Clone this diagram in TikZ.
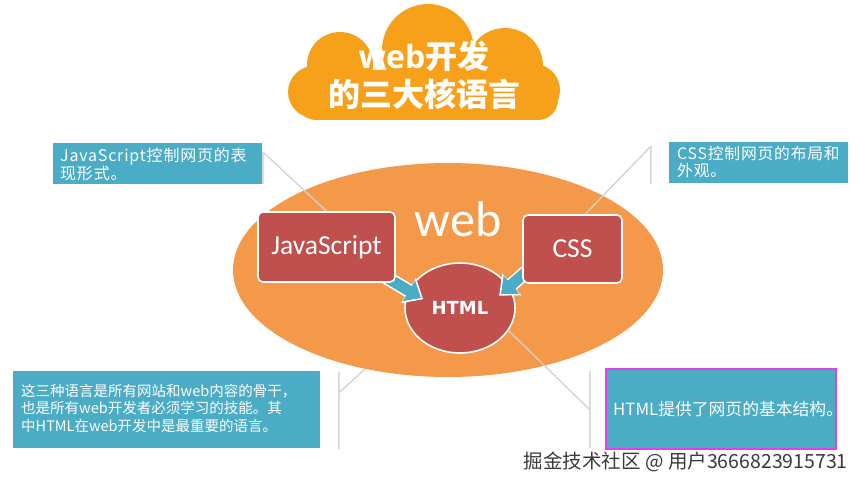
\documentclass[tikz,border=0pt]{standalone}
\usepackage{fontspec}
\setmainfont{Noto Sans CJK SC}
\newfontfamily\latinf{Carlito}
\newfontfamily\boldf{DejaVu Sans}
\newfontfamily\titlelatin{Open Sans}
\newfontfamily\spacedf[LetterSpace=5]{Noto Sans CJK SC}
\usetikzlibrary{shapes.geometric,arrows.meta,calc}
\definecolor{cloudorange}{HTML}{F7A11B}
\definecolor{ellorange}{HTML}{F4994A}
\definecolor{boxred}{HTML}{C0504D}
\definecolor{calloutblue}{HTML}{4BACC6}
\definecolor{linegray}{HTML}{D2D2D2}
\definecolor{selmag}{HTML}{E040E8}
\definecolor{wmgray}{HTML}{3A3A3A}
\tikzset{
  redbox/.style={draw=white, line width=1.6pt, fill=boxred, rounded corners=5pt, inner sep=0pt, text=white},
  callout/.style={fill=calloutblue, inner sep=0pt, text=white, align=left, anchor=north west},
  notetext/.style={text=white, anchor=north west, align=left, inner sep=0pt},
  leader/.style={draw=linegray, line width=1.3pt},
  bracketline/.style={draw=linegray!80, line width=1.6pt},
  blockarrow/.style={draw=calloutblue, line width=11pt, -{Triangle[width=23pt,length=14pt]},
    preaction={draw=white, line width=14pt, shorten >=-2.5pt, shorten <=-1pt, -{Triangle[width=28pt,length=17pt]}}}
}
\begin{document}
\begin{tikzpicture}[x=1pt,y=-1pt]
\useasboundingbox (0,0) rectangle (862,489);
\fill[white] (0,0) rectangle (862,489);
% cloud
\begin{scope}
\fill[cloudorange] (340,65) circle[radius=33];
\fill[cloudorange] (428,50) circle[radius=46];
\fill[cloudorange] (505,66) circle[radius=38];
\fill[cloudorange] (314,92) circle[radius=26];
\fill[cloudorange] (534,90) circle[radius=26];
\fill[cloudorange, rounded corners=20pt] (296,70) rectangle (558,120);
\end{scope}
\node[text=white, align=center, font={\fontsize{32}{38}\selectfont\bfseries}] (title) at (424,75) {{\titlelatin\bfseries web}开发\\的三大核语言};
% big ellipse
\node[ellipse, fill=ellorange, minimum width=430pt, minimum height=214pt, inner sep=0pt] (web) at (448,270) {};
\node[text=white, font={\latinf\fontsize{50}{50}\selectfont}] (weblabel) at (458,219) {web};
% HTML circle
\node[ellipse, draw=white, line width=1.6pt, fill=boxred, minimum width=110pt, minimum height=90pt, inner sep=0pt, text=white, font={\boldf\bfseries\fontsize{18}{18}\selectfont}] (html) at (460,308) {HTML};
% arrows
\coordinate (a1s) at (384,276);
\coordinate (a1e) at (421,298);
\coordinate (a2s) at (526,272);
\coordinate (a2e) at (501,294);
\draw[blockarrow] (a1s) -- (a1e);
\draw[blockarrow] (a2s) -- (a2e);
% red boxes
\node[redbox, minimum width=137pt, minimum height=70pt, font={\latinf\fontsize{27.5}{27.5}\selectfont}] (js) at (326.5,247) {JavaScript};
\node[redbox, minimum width=99pt, minimum height=68pt, font={\latinf\fontsize{27.5}{27.5}\selectfont}] (css) at (572.5,249) {CSS};
% callouts
\node[callout, minimum width=209pt, minimum height=41pt] (jsnote) at (53,143) {};
\node[notetext, font={\spacedf\fontsize{16}{16.5}\selectfont}] (jstext) at (60,147.5) {JavaScript控制网页的表\\现形式。};
\node[callout, minimum width=179pt, minimum height=41pt] (cssnote) at (669,142) {};
\node[notetext, font={\spacedf\fontsize{15.8}{17}\selectfont}] (csstext) at (677,145.5) {CSS控制网页的布局和\\外观。};
\node[callout, minimum width=307pt, minimum height=77pt] (allnote) at (13,371) {};
\node[notetext, font={\fontsize{14.5}{17.5}\selectfont}] (alltext) at (21,384) {这三种语言是所有网站和web内容的骨干，\\也是所有web开发者必须学习的技能。其\\中HTML在web开发中是最重要的语言。};
\node[callout, draw=selmag, line width=1.8pt, minimum width=230pt, minimum height=80pt] (htmlnote) at (605,368) {};
\node[text=white, anchor=west, inner sep=0pt, font={\fontsize{16.8}{17}\selectfont}] (htmltext) at (613,409) {HTML提供了网页的基本结构。};
% leader lines
\coordinate (jsb) at (263,152);
\coordinate (jsb2) at (263,184);
\draw[bracketline] (jsb) -- (jsb2);
\draw[leader] (jsb) -- (js.north);
\coordinate (cssb) at (651,146);
\coordinate (cssb2) at (651,184);
\draw[bracketline] (cssb) -- (cssb2);
\draw[leader] (cssb) -- (css.70);
\coordinate (allb) at (339,372);
\coordinate (allb2) at (339,449);
\coordinate (allc) at (340,392);
\draw[bracketline] (allb) -- (allb2);
\draw[leader] (allc) -- (web.230);
\coordinate (htb) at (590,371);
\coordinate (htb2) at (590,448);
\coordinate (htc) at (590,410);
\draw[bracketline] (htb) -- (htb2);
\draw[leader] (html.-25) -- (htc);
% watermark
\node[text=wmgray, anchor=east, inner sep=0pt, font={\fontsize{19.5}{20}\selectfont}] (wm) at (848,462) {掘金技术社区 @ 用户3666823915731};
\end{tikzpicture}
\end{document}
